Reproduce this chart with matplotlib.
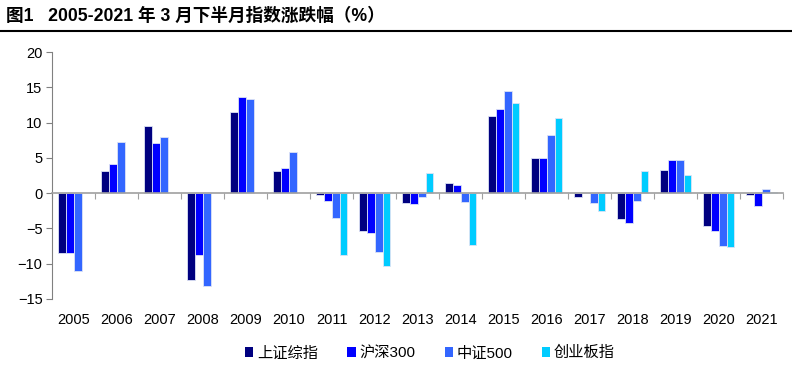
import numpy as np
import matplotlib.pyplot as plt
from matplotlib.patches import Patch

# data (% change, second half of March)
years = [str(y) for y in range(2005, 2022)]
sh_comp = [-8.5, 3.2, 9.5, -12.3, 11.5, 3.2, -0.2, -5.3, -1.4, 1.4, 11.0, 5.0, -0.5, -3.7, 3.3, -4.7, -0.2]
hs300 = [-8.5, 4.2, 7.1, -8.7, 13.6, 3.5, -1.1, -5.7, -1.5, 1.2, 11.9, 5.0, 0.0, -4.2, 4.7, -5.3, -1.8]
csi500 = [-11.0, 7.3, 8.0, -13.2, 13.3, 5.9, -3.5, -8.4, -0.5, -1.2, 14.5, 8.2, -1.4, -1.1, 4.7, -7.5, 0.6]
chinext = [np.nan, np.nan, np.nan, np.nan, np.nan, np.nan, -8.8, -10.3, 2.9, -7.4, 12.8, 10.6, -2.5, 3.2, 2.6, -7.7, 0.1]

series = [("上证综指", sh_comp, "#000080"),
          ("沪深300", hs300, "#0000FF"),
          ("中证500", csi500, "#3366FF"),
          ("创业板指", chinext, "#00CCFF")]

cjk = ["Liberation Sans", "Noto Sans CJK SC"]

fig = plt.figure(figsize=(7.92, 3.68), dpi=100)
ax = fig.add_axes([0.066, 0.1875, 0.923, 0.671])

x = np.arange(len(years))
w = 0.18
for i, (name, vals, col) in enumerate(series):
    ax.bar(x + (i - 1.5) * w, vals, width=w, color=col,
           edgecolor="#dde3f5", linewidth=0.6, label=name, zorder=2)

ax.set_xlim(-0.5, len(years) - 0.5)
ax.set_ylim(-15, 20)
ax.set_yticks(range(-15, 21, 5))
ax.tick_params(axis="y", direction="out", length=4, color="#808080",
               labelsize=10.5, pad=3)
for lab in ax.get_yticklabels():
    lab.set_fontfamily("Liberation Sans")

for s in ["top", "right"]:
    ax.spines[s].set_visible(False)
ax.spines["left"].set_color("#808080")
ax.spines["bottom"].set_position(("data", 0))
ax.spines["bottom"].set_color("#a0a0a0")
ax.spines["bottom"].set_linewidth(1.2)
ax.set_xticks(np.arange(len(years) + 1) - 0.5)
ax.set_xticklabels([])
ax.tick_params(axis="x", direction="out", length=4, color="#a0a0a0")

# year labels along the bottom
sec = ax.secondary_xaxis(0)
sec.set_xticks(x)
sec.set_xticklabels(years, fontfamily="Liberation Sans", fontsize=10.5)
sec.tick_params(length=0, pad=10)
sec.spines["bottom"].set_visible(False)

handles = [Patch(facecolor=c, edgecolor="none") for _, _, c in series]
fig.legend(handles, [n for n, _, _ in series], loc="center",
           bbox_to_anchor=(0.543, 0.04), ncol=4, frameon=False,
           prop={"family": cjk, "size": 11}, handlelength=0.55,
           handleheight=0.55, handletextpad=0.25, columnspacing=1.9)

fig.text(0.008, 0.955, "图1   2005-2021 年 3 月下半月指数涨跌幅（%）",
         fontfamily=cjk, fontsize=12.7, fontweight="bold", va="center", ha="left")
fig.add_artist(plt.Line2D([0, 1], [0.916, 0.916], color="black", linewidth=1.5,
                          transform=fig.transFigure))

fig.savefig("out.png", dpi=100)
